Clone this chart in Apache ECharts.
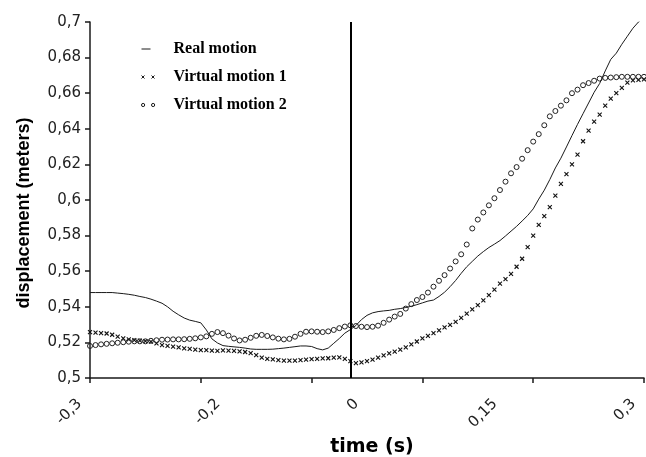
<!DOCTYPE html>
<html>
<head>
<meta charset="utf-8">
<script src="https://cdn.jsdelivr.net/npm/echarts@6/dist/echarts.min.js"></script>
<style>
  html, body { margin: 0; padding: 0; background: #fff; }
  #chart { width: 646px; height: 457px; }
</style>
</head>
<body>
<div id="chart"></div>
<script>
// --- data (one value per sample, 101 samples) ---
const tickLabels = ["-0,3", "-0,2", "0", "0,15", "0,3"];
const labelEvery = 25;   // a time label every 25 samples
const tickEvery = 20;    // a tick mark every 20 samples
const zeroSample = 47;   // sample where the vertical t=0 line is drawn

const realMotion = [
  0.548, 0.548, 0.548, 0.548, 0.548, 0.5477, 0.5474, 0.547, 0.5465, 0.5458,
  0.5452, 0.5443, 0.5432, 0.542, 0.540, 0.5375, 0.5355, 0.5337, 0.5325, 0.5318,
  0.531, 0.527, 0.522, 0.5197, 0.5182, 0.5178, 0.5175, 0.5172, 0.5168, 0.5163,
  0.5161, 0.5161, 0.5161, 0.5162, 0.5165, 0.5168, 0.5172, 0.5176, 0.518, 0.518,
  0.5177, 0.5165, 0.5158, 0.5168, 0.5195, 0.5222, 0.5252, 0.5272, 0.5295, 0.5328,
  0.5352, 0.5366, 0.5373, 0.5377, 0.538, 0.5386, 0.539, 0.5396, 0.5403, 0.5412,
  0.5422, 0.5432, 0.5438, 0.5458, 0.5482, 0.5513, 0.5548, 0.5588, 0.5625, 0.5655,
  0.5685, 0.571, 0.5733, 0.5752, 0.5772, 0.5798, 0.5825, 0.5852, 0.5882, 0.5913,
  0.595, 0.6005, 0.6055, 0.6115, 0.618, 0.6235, 0.6298, 0.6362, 0.6425, 0.6485,
  0.6545, 0.6605, 0.6655, 0.6725, 0.679, 0.6825, 0.6875, 0.692, 0.6965, 0.7,
  0.703
];

const virtualMotion1 = [
  0.5258, 0.5255, 0.5252, 0.525, 0.5243, 0.5232, 0.5222, 0.5217, 0.5213, 0.521,
  0.5207, 0.5204, 0.5195, 0.5185, 0.518, 0.5176, 0.5172, 0.5167, 0.5163, 0.516,
  0.5157, 0.5156, 0.5154, 0.5152, 0.5155, 0.5154, 0.5152, 0.5149, 0.5146, 0.514,
  0.5128, 0.5114, 0.5108, 0.5105, 0.5101, 0.5098, 0.5097, 0.5098, 0.51, 0.5103,
  0.5106, 0.5108, 0.511, 0.5111, 0.5114, 0.5116, 0.5108, 0.5095, 0.5084, 0.5088,
  0.5095, 0.5103, 0.5115, 0.5127, 0.5138, 0.5148, 0.516, 0.5172, 0.5189, 0.5205,
  0.5222, 0.5237, 0.5252, 0.5268, 0.5284, 0.5298, 0.5315, 0.5338, 0.5362, 0.5385,
  0.541, 0.5436, 0.5465, 0.5497, 0.553, 0.5555, 0.5585, 0.5625, 0.567, 0.5735,
  0.58, 0.586, 0.591, 0.596, 0.6025, 0.609, 0.6145, 0.62, 0.6255, 0.633,
  0.639, 0.644, 0.648, 0.653, 0.657, 0.66, 0.663, 0.666, 0.6672, 0.6675,
  0.6678
];

const virtualMotion2 = [
  0.518, 0.5185, 0.5189, 0.5192, 0.5195, 0.5198, 0.5201, 0.5204, 0.5206, 0.5206,
  0.5206, 0.5209, 0.5212, 0.5215, 0.5216, 0.5217, 0.5217, 0.5218, 0.522, 0.5223,
  0.5228, 0.5234, 0.5248, 0.5258, 0.5252, 0.5238, 0.5222, 0.5211, 0.5215, 0.5226,
  0.5237, 0.5242, 0.5236, 0.5228, 0.5221, 0.5217, 0.522, 0.5232, 0.5248, 0.526,
  0.5262, 0.526, 0.5258, 0.5262, 0.527, 0.528, 0.5289, 0.5296, 0.5292, 0.5288,
  0.5286, 0.5288, 0.5294, 0.531, 0.5328, 0.5345, 0.536, 0.539, 0.5415, 0.5438,
  0.5455, 0.548, 0.5513, 0.5546, 0.5578, 0.5615, 0.5655, 0.5695, 0.575, 0.584,
  0.589, 0.593, 0.597, 0.601, 0.6056, 0.6103, 0.615, 0.6185, 0.6232, 0.628,
  0.6328, 0.637, 0.642, 0.647, 0.65, 0.653, 0.656, 0.66, 0.662, 0.6645,
  0.6657, 0.667, 0.6682, 0.6686, 0.6688, 0.669, 0.6692, 0.6692, 0.6692, 0.6692,
  0.6692
];

const samples = realMotion.map((_, i) => i);

// small marker shapes (stroked paths)
const crossSymbol = "path://M0,0L4,4M4,0L0,4";
const ringSymbol = "path://M0,2.5a2.5,2.5 0 1,0 5,0a2.5,2.5 0 1,0 -5,0";
const dashIcon = "path://M0,0M29,6M2,3H11";
const crossIcon = "path://M0,0M29,6M2,1.5L5,4.5M5,1.5L2,4.5M12,1.5L15,4.5M15,1.5L12,4.5";
const circleIcon = "path://M0,0M29,6M2,3a1.6,1.6 0 1,0 3.2,0a1.6,1.6 0 1,0 -3.2,0M12,3a1.6,1.6 0 1,0 3.2,0a1.6,1.6 0 1,0 -3.2,0";

const ink = "#1a1a1a";
const chart = echarts.init(document.getElementById("chart"), null, { renderer: "canvas" });

chart.setOption({
  animation: false,
  backgroundColor: "#fff",
  grid: { left: 90, right: 2, top: 22, bottom: 79, containLabel: false, outerBoundsMode: "none" },
  legend: {
    orient: "vertical",
    left: 134,
    top: 36,
    itemWidth: 29,
    itemHeight: 6,
    itemGap: 12,
    selectedMode: false,
    textStyle: {
      fontFamily: "Liberation Serif",
      fontWeight: "bold",
      fontSize: 16,
      lineHeight: 16,
      color: "#000"
    },
    data: [
      { name: "Real motion", icon: dashIcon, itemStyle: { color: "#fff", borderColor: ink, borderWidth: 1 } },
      { name: "Virtual motion 1", icon: crossIcon, itemStyle: { color: "#fff", borderColor: ink, borderWidth: 1 } },
      { name: "Virtual motion 2", icon: circleIcon, itemStyle: { color: "#fff", borderColor: ink, borderWidth: 1 } }
    ]
  },
  xAxis: {
    type: "category",
    data: samples,
    boundaryGap: false,
    name: "time (s)",
    nameLocation: "middle",
    nameGap: 59,
    nameTextStyle: {
      fontFamily: "DejaVu Sans",
      fontWeight: "bold",
      fontSize: 19,
      color: "#000",
      padding: [0, 0, 0, 10]
    },
    axisLine: { lineStyle: { color: ink, width: 1.5 } },
    axisTick: {
      inside: false,
      length: 5,
      interval: tickEvery - 1,
      lineStyle: { color: ink, width: 1.5 }
    },
    axisLabel: {
      interval: (i) => i % labelEvery === 0,
      formatter: (v, i) => tickLabels[Math.round(i / labelEvery)] || "",
      rotate: 45,
      margin: 13,
      padding: [0, 15, 0, 0],
      fontFamily: "DejaVu Sans",
      fontSize: 15,
      color: "#222"
    },
    splitLine: { show: false }
  },
  yAxis: {
    type: "value",
    min: 0.5,
    max: 0.7,
    interval: 0.02,
    name: "displacement (meters)",
    nameLocation: "middle",
    nameGap: 57,
    nameTextStyle: {
      fontFamily: "Liberation Sans",
      fontWeight: "bold",
      fontSize: 18,
      color: "#000",
      padding: [0, 26, 0, 0]
    },
    axisLine: { show: true, lineStyle: { color: ink, width: 1.5 } },
    axisTick: { show: true, length: 5, lineStyle: { color: ink, width: 1.5 } },
    axisLabel: {
      margin: 9,
      fontFamily: "DejaVu Sans",
      fontSize: 15,
      color: "#222",
      formatter: (v) => String(+v.toFixed(2)).replace(".", ",")
    },
    splitLine: { show: false }
  },
  series: [
    {
      name: "Real motion",
      type: "line",
      data: realMotion,
      showSymbol: false,
      lineStyle: { color: ink, width: 1 },
      itemStyle: { color: ink },
      z: 3,
      markLine: {
        silent: true,
        symbol: "none",
        label: { show: false },
        lineStyle: { color: "#000", width: 2, type: "solid" },
        data: [{ xAxis: zeroSample }]
      }
    },
    {
      name: "Virtual motion 1",
      type: "line",
      data: virtualMotion1,
      symbol: crossSymbol,
      symbolSize: 4,
      showAllSymbol: true,
      lineStyle: { opacity: 0 },
      itemStyle: { color: "#fff", borderColor: "#111", borderWidth: 1.1 },
      z: 2
    },
    {
      name: "Virtual motion 2",
      type: "line",
      data: virtualMotion2,
      symbol: ringSymbol,
      symbolSize: 5,
      showAllSymbol: true,
      lineStyle: { opacity: 0 },
      itemStyle: { color: "rgba(255,255,255,0)", borderColor: "#222", borderWidth: 1 },
      z: 2
    }
  ]
});
</script>
</body>
</html>
